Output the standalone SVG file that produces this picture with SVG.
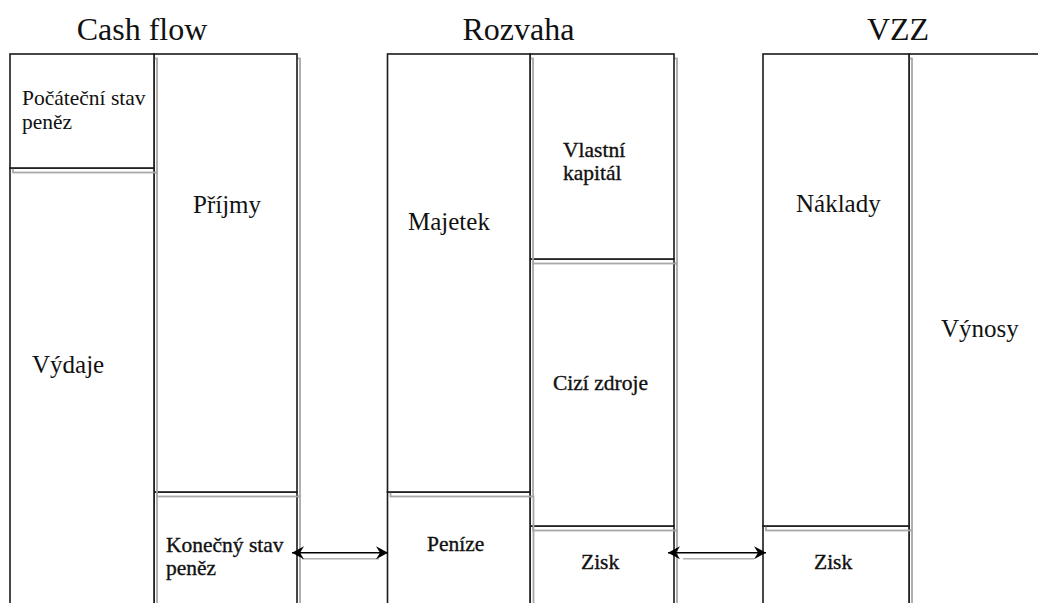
<svg xmlns="http://www.w3.org/2000/svg" width="1038" height="603" viewBox="0 0 1038 603">
<style>
text{font-family:'Liberation Serif','Times New Roman','DejaVu Serif',serif;fill:#111}
.title{font-size:32px;text-anchor:middle}
.big{font-size:25px}
.sm{font-size:21.5px}
.smb{font-size:21.5px;stroke:#111;stroke-width:0.35}
.shadow{fill:none;stroke:#a8a8a8;stroke-width:1.8}
.cell{fill:#fff;stroke:#1a1a1a;stroke-width:1.6}
.arrow{stroke:#000;stroke-width:1.6;fill:none}
.ashadow{stroke:#b0b0b0;stroke-width:1.4;fill:none}
</style>
<defs>
<marker id="stealth" viewBox="-13 -7 14 14" refX="0" refY="0" markerWidth="14" markerHeight="14" markerUnits="userSpaceOnUse" orient="auto-start-reverse">
<path d="M0,0 L-12,-6.5 L-8,0 L-12,6.5 Z" fill="#000"/>
</marker>
</defs>
<rect width="1038" height="603" fill="#fff"/>

<g id="titles">
<text class="title" x="142" y="40" font-family="Liberation Serif, serif">Cash flow</text>
<text class="title" x="518.5" y="40">Rozvaha</text>
<text class="title" x="898" y="40">VZZ</text>
</g>

<g id="cashflow">
<g id="konecny-stav">
<rect class="shadow" x="157" y="496.5" width="143" height="140"/>
<rect class="cell" x="154" y="492" width="143" height="140"/>
<text class="smb" x="166" y="552">Konečný stav</text>
<text class="smb" x="166" y="575">peněz</text>
</g>
<g id="prijmy">
<rect class="shadow" x="157" y="58.5" width="143" height="438"/>
<rect class="cell" x="154" y="54" width="143" height="438"/>
<text class="big" x="193" y="213">Příjmy</text>
</g>
<g id="vydaje">
<rect class="shadow" x="13" y="172.5" width="144" height="460"/>
<rect class="cell" x="10" y="168" width="144" height="460"/>
<text class="big" x="32" y="373">Výdaje</text>
</g>
<g id="pocatecni-stav">
<rect class="shadow" x="13" y="58.5" width="144" height="114"/>
<rect class="cell" x="10" y="54" width="144" height="114"/>
<text class="sm" x="22" y="105">Počáteční stav</text>
<text class="sm" x="22" y="129">peněz</text>
</g>
</g>

<g id="rozvaha">
<g id="zisk-rozvaha">
<rect class="shadow" x="533" y="530.5" width="144" height="110"/>
<rect class="cell" x="530" y="526" width="144" height="110"/>
<text class="smb" x="581" y="569">Zisk</text>
</g>
<g id="cizi-zdroje">
<rect class="shadow" x="533" y="263.5" width="144" height="267"/>
<rect class="cell" x="530" y="259" width="144" height="267"/>
<text class="smb" x="553" y="390">Cizí zdroje</text>
</g>
<g id="vlastni-kapital">
<rect class="shadow" x="533" y="58.5" width="144" height="205"/>
<rect class="cell" x="530" y="54" width="144" height="205"/>
<text class="smb" x="563" y="157">Vlastní</text>
<text class="smb" x="563" y="180">kapitál</text>
</g>
<g id="penize">
<rect class="shadow" x="390.5" y="496.5" width="143" height="140"/>
<rect class="cell" x="387.5" y="492" width="142.5" height="140"/>
<text class="smb" x="427" y="551">Peníze</text>
</g>
<g id="majetek">
<rect class="shadow" x="390.5" y="58.5" width="142.5" height="438"/>
<rect class="cell" x="387.5" y="54" width="142.5" height="438"/>
<text class="big" x="408" y="230">Majetek</text>
</g>
</g>

<g id="vzz">
<g id="vynosy">
<rect class="shadow" x="912" y="58.5" width="160" height="600"/>
<rect class="cell" x="909" y="54" width="160" height="600"/>
<text class="big" x="941" y="337">Výnosy</text>
</g>
<g id="zisk-vzz">
<rect class="shadow" x="766" y="530.5" width="146" height="110"/>
<rect class="cell" x="763" y="526" width="146" height="110"/>
<text class="smb" x="814" y="569">Zisk</text>
</g>
<g id="naklady">
<rect class="shadow" x="766" y="58.5" width="146" height="472"/>
<rect class="cell" x="763" y="54" width="146" height="472"/>
<text class="big" x="796" y="212">Náklady</text>
</g>
</g>

<g id="connectors">
<line class="ashadow" x1="302" y1="558.7" x2="379" y2="558.7"/>
<line class="ashadow" x1="683" y1="558.7" x2="754" y2="558.7"/>
<line class="arrow" x1="292" y1="552.7" x2="388" y2="552.7" marker-start="url(#stealth)" marker-end="url(#stealth)"/>
<line class="arrow" x1="668" y1="552.7" x2="766" y2="552.7" marker-start="url(#stealth)" marker-end="url(#stealth)"/>
</g>
</svg>
